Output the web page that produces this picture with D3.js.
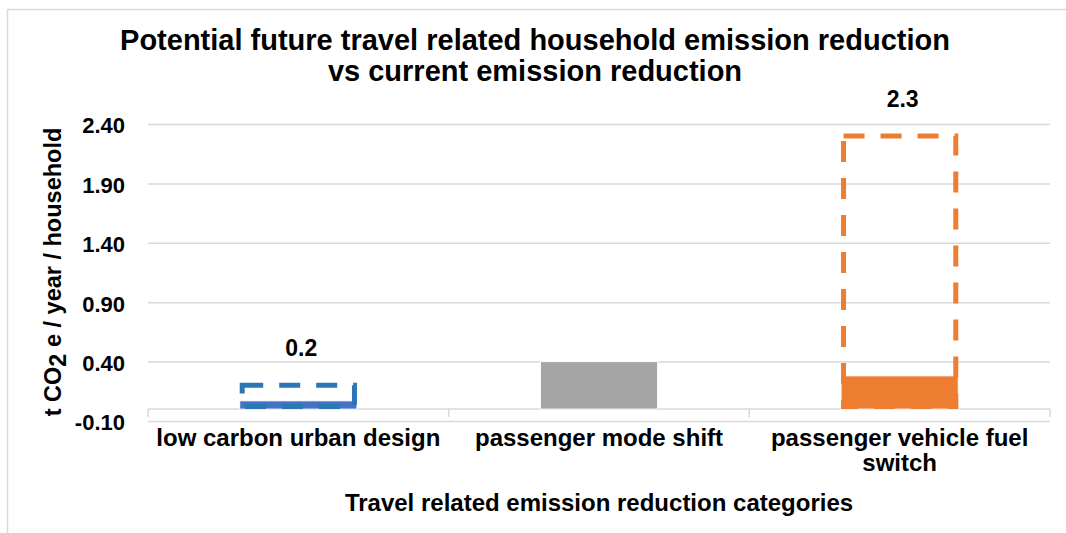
<!DOCTYPE html>
<html>
<head>
<meta charset="utf-8">
<script src="https://cdn.jsdelivr.net/npm/d3@7"></script>
<style>
  html, body { margin: 0; padding: 0; background: #fff; }
  svg { display: block; font-family: "Liberation Sans", Arial, sans-serif; }
</style>
</head>
<body>
<svg id="chart" width="1066" height="533"></svg>
<script>
// Travel related emission reduction categories
const categories = ["low carbon urban design", "passenger mode shift", "passenger vehicle fuel switch"];
const categoryLines = [["low carbon urban design"], ["passenger mode shift"], ["passenger vehicle fuel", "switch"]];
// Current reduction (solid bars) and potential future reduction (dashed outlines), t CO2e / year / household
const currentReduction = [0.07, 0.40, 0.28];
const potentialReduction = [0.2, null, 2.3];
const yTicks = [-0.10, 0.40, 0.90, 1.40, 1.90, 2.40];
const solidColors = ["#4472C4", "#A5A5A5", "#ED7D31"];
const dashColors = ["#2E75B6", "#A5A5A5", "#ED7D31"];

const svg = d3.select("#chart");
const W = 1066, H = 533;
const plot = { left: 148, right: 1050, top: 124, bottom: 421 };

// Outer chart frame
svg.append("rect")
  .attr("x", 7.5).attr("y", 9.5)
  .attr("width", W + 10).attr("height", H + 10)
  .attr("fill", "none").attr("stroke", "#D9D9D9").attr("stroke-width", 1.5);

const x = d3.scaleBand().domain(categories).range([plot.left, plot.right]).padding(0);
const y = d3.scaleLinear().domain([-0.1, 2.4]).range([plot.bottom, plot.top]);
const barW = x.bandwidth() * 0.39;
const cx = c => x(c) + x.bandwidth() / 2;

// Horizontal gridlines with value labels
const yAxis = d3.axisLeft(y).tickValues(yTicks).tickFormat(d => d.toFixed(2))
  .tickSize(-(plot.right - plot.left)).tickPadding(23);
const gy = svg.append("g").attr("transform", `translate(${plot.left},0)`).call(yAxis);
gy.select(".domain").remove();
gy.selectAll(".tick line").attr("stroke", "#D9D9D9").attr("stroke-width", 1.5);
gy.selectAll(".tick text")
  .attr("fill", "#000").attr("font-size", 22).attr("font-weight", "bold")
  .attr("font-family", "Liberation Sans, Arial, sans-serif")
  .attr("dy", "0.40em");

// Category axis at zero with band-boundary ticks
const y0 = y(0);
svg.append("line")
  .attr("x1", plot.left).attr("x2", plot.right).attr("y1", y0).attr("y2", y0)
  .attr("stroke", "#D9D9D9").attr("stroke-width", 1.5);
const boundaries = categories.map(c => x(c)).concat([plot.right]);
svg.selectAll(".cat-tick").data(boundaries).enter().append("line")
  .attr("x1", d => d).attr("x2", d => d)
  .attr("y1", y0).attr("y2", y0 + 8)
  .attr("stroke", "#D9D9D9").attr("stroke-width", 1.5);

// Current reduction bars
svg.selectAll(".bar-current").data(categories).enter().append("rect")
  .attr("x", c => cx(c) - barW / 2)
  .attr("width", barW)
  .attr("y", (c, i) => y(currentReduction[i]))
  .attr("height", (c, i) => y0 - y(currentReduction[i]))
  .attr("fill", (c, i) => solidColors[i])
  .attr("stroke", "#fff").attr("stroke-width", 1);

// Potential future reduction as dashed outlines
const future = categories.map((c, i) => ({ c, i, v: potentialReduction[i] })).filter(d => d.v != null);
const sw = 5;
svg.selectAll(".bar-future").data(future).enter().append("rect")
  .attr("x", d => cx(d.c) - barW / 2 + sw / 2)
  .attr("width", barW - sw)
  .attr("y", d => y(d.v))
  .attr("height", d => y0 - y(d.v) - sw / 2)
  .attr("fill", "none")
  .attr("stroke", d => dashColors[d.i])
  .attr("stroke-width", sw)
  .attr("stroke-dasharray", "21,16");

// Value labels for potential reduction
svg.selectAll(".val-label").data(future).enter().append("text")
  .attr("x", d => cx(d.c) + 3)
  .attr("y", d => y(d.v) - 29)
  .attr("text-anchor", "middle")
  .attr("font-size", 23).attr("font-weight", "bold").attr("fill", "#000")
  .text(d => d3.format(".1f")(d.v));

// Category labels
categories.forEach((c, i) => {
  const t = svg.append("text")
    .attr("x", cx(c)).attr("y", 446)
    .attr("text-anchor", "middle")
    .attr("font-size", 24).attr("font-weight", "bold").attr("fill", "#000");
  categoryLines[i].forEach((line, k) => {
    t.append("tspan").attr("x", cx(c)).attr("dy", k === 0 ? 0 : 24.5).text(line);
  });
});

// Chart title
const title = svg.append("text")
  .attr("x", 535).attr("y", 50)
  .attr("text-anchor", "middle")
  .attr("font-size", 29).attr("font-weight", "bold").attr("fill", "#000");
title.append("tspan").attr("x", 535).attr("dy", 0).text("Potential future travel related household emission reduction");
title.append("tspan").attr("x", 535).attr("dy", 31).text("vs current emission reduction");

// X axis title
svg.append("text")
  .attr("x", 599).attr("y", 511)
  .attr("text-anchor", "middle")
  .attr("font-size", 24).attr("font-weight", "bold").attr("fill", "#000")
  .text("Travel related emission reduction categories");

// Y axis title with subscript
const yt = svg.append("text")
  .attr("transform", "translate(61,272) rotate(-90)")
  .attr("text-anchor", "middle")
  .attr("font-size", 23.5).attr("font-weight", "bold").attr("fill", "#000");
yt.append("tspan").text("t CO");
yt.append("tspan").attr("dy", 5).attr("font-size", 23.5).text("2");
yt.append("tspan").attr("dy", -5).text(" e / year / household");
</script>
</body>
</html>
